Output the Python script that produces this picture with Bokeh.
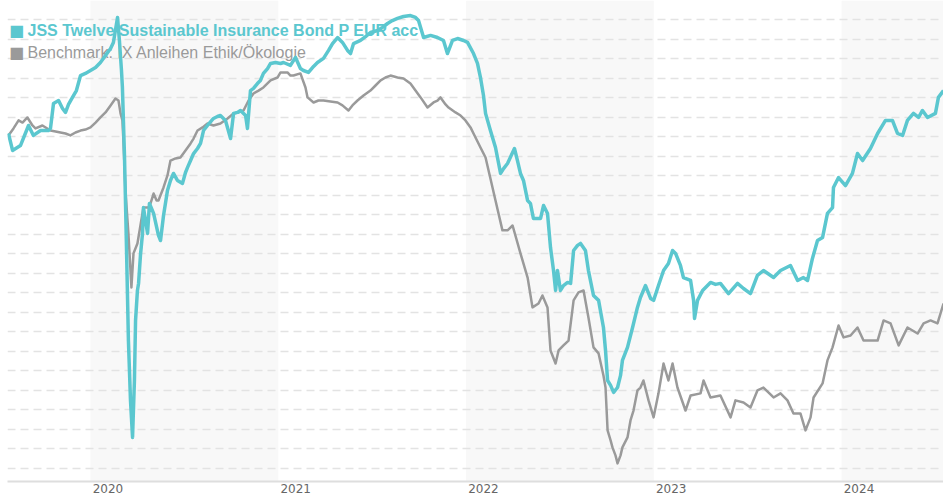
from bokeh.plotting import figure
from bokeh.models import Range1d, FixedTicker, BoxAnnotation, Label
from bokeh.embed import file_html
from bokeh.resources import INLINE

# ---------------- data ----------------
fund_name = "JSS Twelve Sustainable Insurance Bond P EUR acc"
bench_name = "Benchmark: IX Anleihen Ethik/Ökologie"

years = [2020, 2021, 2022, 2023, 2024]
year_labels = ["2020", "2021", "2022", "2023", "2024"]
shaded_years = [2020, 2022, 2024]

fund_x = [2019.563, 2019.585, 2019.627, 2019.670, 2019.696, 2019.734, 2019.776, 2019.787, 2019.803, 2019.830,
          2019.851, 2019.867, 2019.883, 2019.904, 2019.925, 2019.947, 2019.973, 2020.000, 2020.027, 2020.053,
          2020.080, 2020.107, 2020.122, 2020.144, 2020.154, 2020.165, 2020.170, 2020.181, 2020.192, 2020.202,
          2020.213, 2020.224, 2020.234, 2020.240, 2020.250, 2020.256, 2020.266, 2020.277, 2020.282, 2020.293,
          2020.304, 2020.314, 2020.336, 2020.362, 2020.373, 2020.389, 2020.410, 2020.426, 2020.442, 2020.463,
          2020.490, 2020.506, 2020.517, 2020.533, 2020.549, 2020.570, 2020.586, 2020.602, 2020.623, 2020.655,
          2020.676, 2020.692, 2020.719, 2020.746, 2020.762, 2020.783, 2020.799, 2020.826, 2020.836, 2020.852,
          2020.868, 2020.889, 2020.905, 2020.921, 2020.943, 2020.959, 2020.985, 2021.012, 2021.028, 2021.065,
          2021.092, 2021.118, 2021.134, 2021.161, 2021.188, 2021.209, 2021.241, 2021.268, 2021.289, 2021.316,
          2021.342, 2021.369, 2021.385, 2021.401, 2021.438, 2021.465, 2021.491, 2021.529, 2021.555, 2021.582,
          2021.608, 2021.635, 2021.667, 2021.704, 2021.731, 2021.747, 2021.774, 2021.811, 2021.848, 2021.880,
          2021.901, 2021.928, 2021.955, 2021.987, 2022.008, 2022.040, 2022.061, 2022.077, 2022.093, 2022.104,
          2022.130, 2022.157, 2022.184, 2022.200, 2022.221, 2022.258, 2022.274, 2022.290, 2022.306, 2022.328,
          2022.343, 2022.359, 2022.397, 2022.413, 2022.434, 2022.450, 2022.466, 2022.477, 2022.487, 2022.503,
          2022.519, 2022.541, 2022.557, 2022.573, 2022.594, 2022.610, 2022.636, 2022.652, 2022.679, 2022.706,
          2022.732, 2022.743, 2022.754, 2022.770, 2022.786, 2022.807, 2022.823, 2022.833, 2022.860, 2022.887,
          2022.913, 2022.929, 2022.956, 2022.983, 2022.999, 2023.025, 2023.052, 2023.078, 2023.100, 2023.116,
          2023.142, 2023.158, 2023.196, 2023.212, 2023.217, 2023.233, 2023.260, 2023.302, 2023.329, 2023.355,
          2023.398, 2023.446, 2023.478, 2023.515, 2023.552, 2023.584, 2023.638, 2023.675, 2023.728, 2023.766,
          2023.797, 2023.819, 2023.845, 2023.872, 2023.899, 2023.925, 2023.952, 2023.957, 2023.984, 2024.021,
          2024.058, 2024.085, 2024.112, 2024.154, 2024.192, 2024.234, 2024.271, 2024.298, 2024.325, 2024.351,
          2024.383, 2024.410, 2024.431, 2024.458, 2024.500, 2024.516, 2024.543]
fund_y = [100.18, 99.31, 99.56, 100.59, 100.08, 100.33, 100.33, 100.44, 101.72, 101.87,
          101.46, 101.26, 101.67, 102.03, 102.38, 103.15, 103.26, 103.41, 103.56, 103.82,
          104.18, 104.54, 104.85, 106.13, 104.95, 103.41, 102.54, 99.05, 94.18, 89.56,
          86.49, 84.59, 87.51, 90.59, 92.13, 92.49, 93.92, 95.05, 96.38, 95.72,
          95.05, 96.59, 96.08, 94.95, 94.69, 95.97, 97.26, 97.77, 98.13, 97.77,
          97.62, 98.18, 98.44, 98.79, 99.15, 99.41, 99.67, 100.33, 100.59, 100.95,
          101.05, 101.10, 100.85, 99.92, 101.21, 101.26, 101.36, 101.10, 100.44, 102.38,
          102.49, 102.74, 102.90, 103.26, 103.51, 103.77, 103.82, 103.77, 103.82, 103.67,
          104.08, 103.51, 103.41, 103.31, 103.62, 103.82, 104.03, 104.44, 104.79, 105.10,
          104.85, 104.44, 104.28, 104.79, 104.95, 105.15, 105.36, 105.46, 105.62, 105.82,
          105.97, 106.08, 106.18, 106.23, 106.13, 105.97, 105.10, 105.21, 105.10, 104.95,
          104.28, 104.95, 105.05, 104.95, 104.85, 104.28, 103.77, 103.05, 102.13, 101.21,
          100.33, 99.46, 98.13, 98.38, 98.64, 99.41, 98.79, 98.13, 97.77, 96.74,
          96.59, 95.82, 95.82, 96.49, 96.08, 94.33, 93.15, 92.13, 93.15, 92.13,
          92.38, 92.54, 92.49, 94.18, 94.44, 94.54, 94.18, 93.15, 91.87, 91.62,
          90.23, 89.05, 87.51, 87.26, 86.90, 87.15, 87.77, 88.54, 89.21, 90.23,
          91.26, 91.77, 92.38, 91.72, 91.62, 92.38, 93.15, 93.51, 94.18, 94.03,
          93.41, 92.79, 92.64, 91.62, 90.69, 91.62, 92.13, 92.54, 92.44, 92.49,
          91.97, 92.49, 92.23, 91.97, 92.90, 93.15, 92.79, 93.15, 93.41, 92.64,
          92.79, 92.64, 93.77, 94.69, 94.85, 96.08, 96.38, 97.41, 97.92, 97.51,
          98.13, 99.15, 98.79, 99.41, 100.18, 100.85, 100.85, 100.18, 100.08, 100.85,
          101.21, 101.00, 101.36, 101.00, 101.21, 102.03, 102.38]

bench_x = [2019.563, 2019.590, 2019.617, 2019.638, 2019.664, 2019.691, 2019.707, 2019.744, 2019.787, 2019.814,
           2019.840, 2019.867, 2019.893, 2019.920, 2019.947, 2019.973, 2020.000, 2020.027, 2020.053, 2020.080,
           2020.107, 2020.133, 2020.149, 2020.160, 2020.170, 2020.176, 2020.186, 2020.202, 2020.213, 2020.218,
           2020.229, 2020.250, 2020.266, 2020.282, 2020.309, 2020.320, 2020.336, 2020.352, 2020.362, 2020.389,
           2020.410, 2020.426, 2020.453, 2020.479, 2020.506, 2020.533, 2020.549, 2020.570, 2020.597, 2020.623,
           2020.655, 2020.692, 2020.730, 2020.762, 2020.788, 2020.815, 2020.842, 2020.868, 2020.895, 2020.921,
           2020.959, 2020.996, 2021.012, 2021.049, 2021.065, 2021.081, 2021.118, 2021.145, 2021.156, 2021.188,
           2021.214, 2021.241, 2021.278, 2021.316, 2021.342, 2021.374, 2021.395, 2021.422, 2021.454, 2021.491,
           2021.518, 2021.545, 2021.571, 2021.598, 2021.635, 2021.667, 2021.704, 2021.731, 2021.758, 2021.795,
           2021.827, 2021.848, 2021.864, 2021.891, 2021.907, 2021.944, 2021.971, 2021.997, 2022.024, 2022.040,
           2022.077, 2022.104, 2022.130, 2022.157, 2022.194, 2022.221, 2022.248, 2022.290, 2022.328, 2022.354,
           2022.386, 2022.407, 2022.434, 2022.450, 2022.477, 2022.493, 2022.519, 2022.546, 2022.573, 2022.599,
           2022.626, 2022.652, 2022.679, 2022.706, 2022.732, 2022.743, 2022.754, 2022.770, 2022.780, 2022.796,
           2022.807, 2022.823, 2022.833, 2022.860, 2022.876, 2022.892, 2022.913, 2022.929, 2022.945, 2022.972,
           2022.999, 2023.025, 2023.052, 2023.078, 2023.100, 2023.126, 2023.169, 2023.196, 2023.249, 2023.265,
           2023.302, 2023.355, 2023.409, 2023.435, 2023.478, 2023.515, 2023.552, 2023.584, 2023.638, 2023.675,
           2023.712, 2023.744, 2023.781, 2023.808, 2023.835, 2023.851, 2023.899, 2023.925, 2023.952, 2023.984,
           2024.011, 2024.048, 2024.085, 2024.117, 2024.154, 2024.192, 2024.224, 2024.261, 2024.304, 2024.351,
           2024.405, 2024.437, 2024.474, 2024.511, 2024.543]
bench_y = [100.08, 100.44, 100.85, 100.74, 101.00, 100.59, 100.44, 100.59, 100.33, 100.28,
           100.23, 100.18, 100.08, 100.23, 100.33, 100.38, 100.49, 100.74, 101.00, 101.26,
           101.62, 101.97, 101.87, 101.21, 100.85, 99.67, 97.26, 95.05, 93.15, 92.28,
           94.03, 94.54, 95.46, 96.38, 96.38, 96.59, 97.10, 96.74, 96.74, 97.41,
           98.03, 98.79, 98.90, 98.95, 99.31, 99.67, 99.92, 100.33, 100.49, 100.69,
           100.59, 100.69, 100.95, 101.21, 101.26, 101.36, 101.87, 102.23, 102.38, 102.54,
           102.90, 103.05, 103.31, 103.31, 103.15, 103.15, 103.26, 102.54, 102.03, 101.77,
           101.87, 101.87, 101.82, 101.77, 101.62, 101.36, 101.62, 101.87, 102.13, 102.38,
           102.64, 102.90, 103.05, 103.15, 103.05, 103.00, 102.74, 102.38, 102.03, 101.51,
           101.77, 101.87, 102.03, 101.67, 101.51, 101.26, 101.10, 100.85, 100.49, 100.18,
           99.46, 98.95, 97.87, 96.74, 95.21, 95.21, 95.46, 94.03, 92.79, 91.26,
           91.46, 91.87, 91.26, 89.05, 88.38, 89.05, 89.31, 89.56, 91.62, 92.03,
           92.13, 90.74, 89.21, 88.90, 87.77, 87.15, 84.95, 84.44, 84.08, 83.67,
           83.26, 83.67, 84.08, 84.59, 85.46, 85.97, 87.00, 87.15, 87.51, 86.49,
           85.62, 86.85, 88.38, 87.51, 88.38, 87.15, 85.97, 86.74, 86.85, 87.51,
           86.64, 86.74, 85.62, 86.49, 86.38, 86.13, 87.00, 87.15, 86.64, 86.85,
           86.49, 85.82, 85.82, 84.95, 85.62, 86.64, 87.36, 88.54, 89.21, 90.33,
           89.72, 89.82, 90.23, 89.56, 89.56, 89.56, 90.59, 90.44, 89.31, 90.23,
           89.92, 90.44, 90.59, 90.44, 91.46]

grid_values = list(range(83, 107))

# ---------------- styling ----------------
TEAL = "#5bc7cf"
GREY = "#9a9a9a"

p = figure(width=943, height=500, output_backend="svg", toolbar_location=None,
           x_range=Range1d(2019.558, 2024.543), y_range=Range1d(82.33, 107.0),
           min_border_left=7, min_border_right=0, min_border_top=0, min_border_bottom=19)
p.outline_line_color = None
p.background_fill_color = "white"
p.border_fill_color = "white"

for yr in shaded_years:
    p.add_layout(BoxAnnotation(left=yr, right=yr + 1, fill_color="#f8f8f8", fill_alpha=1.0,
                               line_color=None, level="image"))

p.yaxis.visible = False
p.xgrid.visible = False
p.ygrid.ticker = FixedTicker(ticks=grid_values)
p.ygrid.grid_line_color = "#e3e3e3"
p.ygrid.grid_line_width = 1.5
p.ygrid.grid_line_dash = "8 5"

tick_pos = [y + 0.093 for y in years]
p.xaxis.ticker = FixedTicker(ticks=tick_pos)
p.xaxis.major_label_overrides = dict(zip(tick_pos, year_labels))
p.xaxis.axis_line_color = "#dedede"
p.xaxis.axis_line_width = 2
p.xaxis.major_tick_line_color = None
p.xaxis.minor_tick_line_color = None
p.xaxis.major_tick_in = 0
p.xaxis.major_tick_out = 0
p.xaxis.major_label_text_font = "DejaVu Sans"
p.xaxis.major_label_text_font_size = "12px"
p.xaxis.major_label_text_color = "#666666"
p.xaxis.major_label_standoff = 2

# legend (drawn beneath the lines)
sq_x = 2019.606
tx_x = 2019.6645
p.add_layout(Label(x=sq_x, y=105.46, text="■", text_font="DejaVu Sans", text_font_size="16px",
                   text_color=TEAL, text_baseline="middle", text_align="center", level="underlay"))
p.add_layout(Label(x=tx_x, y=105.46, text=fund_name, text_font="Liberation Sans", text_font_size="16px",
                   text_font_style="bold", text_color=TEAL, text_baseline="middle", level="underlay"))
p.add_layout(Label(x=sq_x, y=104.33, text="■", text_font="DejaVu Sans", text_font_size="16px",
                   text_color=GREY, text_baseline="middle", text_align="center", level="underlay"))
p.add_layout(Label(x=tx_x, y=104.33, text=bench_name, text_font="Liberation Sans", text_font_size="16px",
                   text_color=GREY, text_baseline="middle", level="underlay"))

p.line(bench_x, bench_y, line_color=GREY, line_width=2.5, line_join="round")
p.line(fund_x, fund_y, line_color=TEAL, line_width=3.5, line_join="round")

open("out.html", "w").write(file_html(p, INLINE))
